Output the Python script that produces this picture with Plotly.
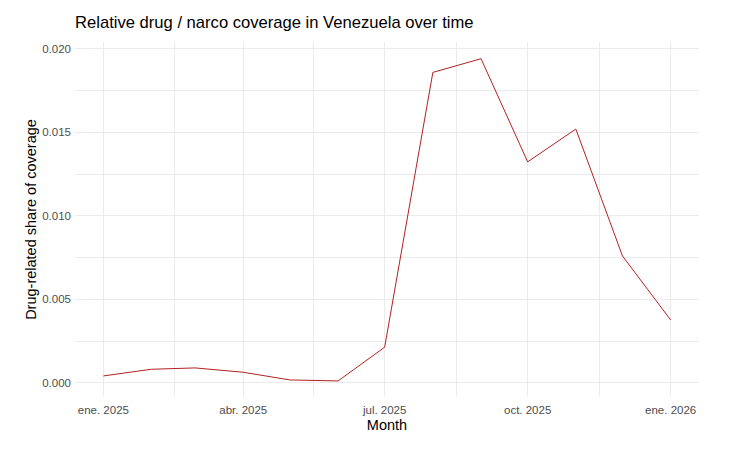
import plotly.graph_objects as go

months = ["2025-01-01", "2025-02-01", "2025-03-01", "2025-04-01", "2025-05-01",
          "2025-06-01", "2025-07-01", "2025-08-01", "2025-09-01", "2025-10-01",
          "2025-11-01", "2025-12-01", "2026-01-01"]
share = [0.00042, 0.00082, 0.00090, 0.00064, 0.00018, 0.00012, 0.00214,
         0.01858, 0.01940, 0.01323, 0.01519, 0.00760, 0.00377]

x_tickvals = ["2025-01-01", "2025-04-01", "2025-07-01", "2025-10-01", "2026-01-01"]
x_ticktext = ["ene. 2025", "abr. 2025", "jul. 2025", "oct. 2025", "ene. 2026"]
x_minor = ["2025-02-15 12:00", "2025-05-16 12:00", "2025-08-16", "2025-11-16"]
y_tickvals = [0.000, 0.005, 0.010, 0.015, 0.020]
y_ticktext = ["0.000", "0.005", "0.010", "0.015", "0.020"]
y_minor = [0.0025, 0.0075, 0.0125, 0.0175]

FONT = "Liberation Sans, Arial, sans-serif"
GRID = "#EBEBEB"

fig = go.Figure()
fig.add_trace(go.Scatter(x=months, y=share, mode="lines",
                         line=dict(color="#B22222", width=1), showlegend=False))

fig.update_layout(
    width=735, height=456,
    margin=dict(l=75, r=36, t=42, b=59),
    paper_bgcolor="white", plot_bgcolor="white",
    font=dict(family=FONT),
    title=dict(text="Relative drug / narco coverage in Venezuela over time",
               x=0, xref="paper", xanchor="left",
               y=1 - 22 / 456, yref="container", yanchor="middle",
               font=dict(size=16.6, color="black", family=FONT)),
)
fig.update_xaxes(
    type="date",
    range=["2024-12-13 18:00", "2026-01-19 06:00"],
    tickmode="array", tickvals=x_tickvals, ticktext=x_ticktext,
    tickfont=dict(size=11.5, color="#4D4D4D"),
    ticklabelstandoff=4,
    showgrid=True, gridcolor=GRID, gridwidth=1,
    minor=dict(tickmode="array", tickvals=x_minor, showgrid=True,
               gridcolor=GRID, gridwidth=0.6),
    zeroline=False, showline=False, ticks="",
    title=dict(text="Month", font=dict(size=14.5, color="black"), standoff=5),
    automargin=False,
)
fig.update_yaxes(
    range=[-0.00084, 0.0204],
    tickmode="array", tickvals=y_tickvals, ticktext=y_ticktext,
    tickfont=dict(size=11.5, color="#4D4D4D"),
    ticklabelstandoff=3,
    showgrid=True, gridcolor=GRID, gridwidth=1,
    minor=dict(tickmode="array", tickvals=y_minor, showgrid=True,
               gridcolor=GRID, gridwidth=0.6),
    zeroline=False, showline=False, ticks="",
    title=dict(text="Drug-related share of coverage",
               font=dict(size=14.5, color="black"), standoff=2),
    automargin=False,
)

fig.write_html("out.html")
